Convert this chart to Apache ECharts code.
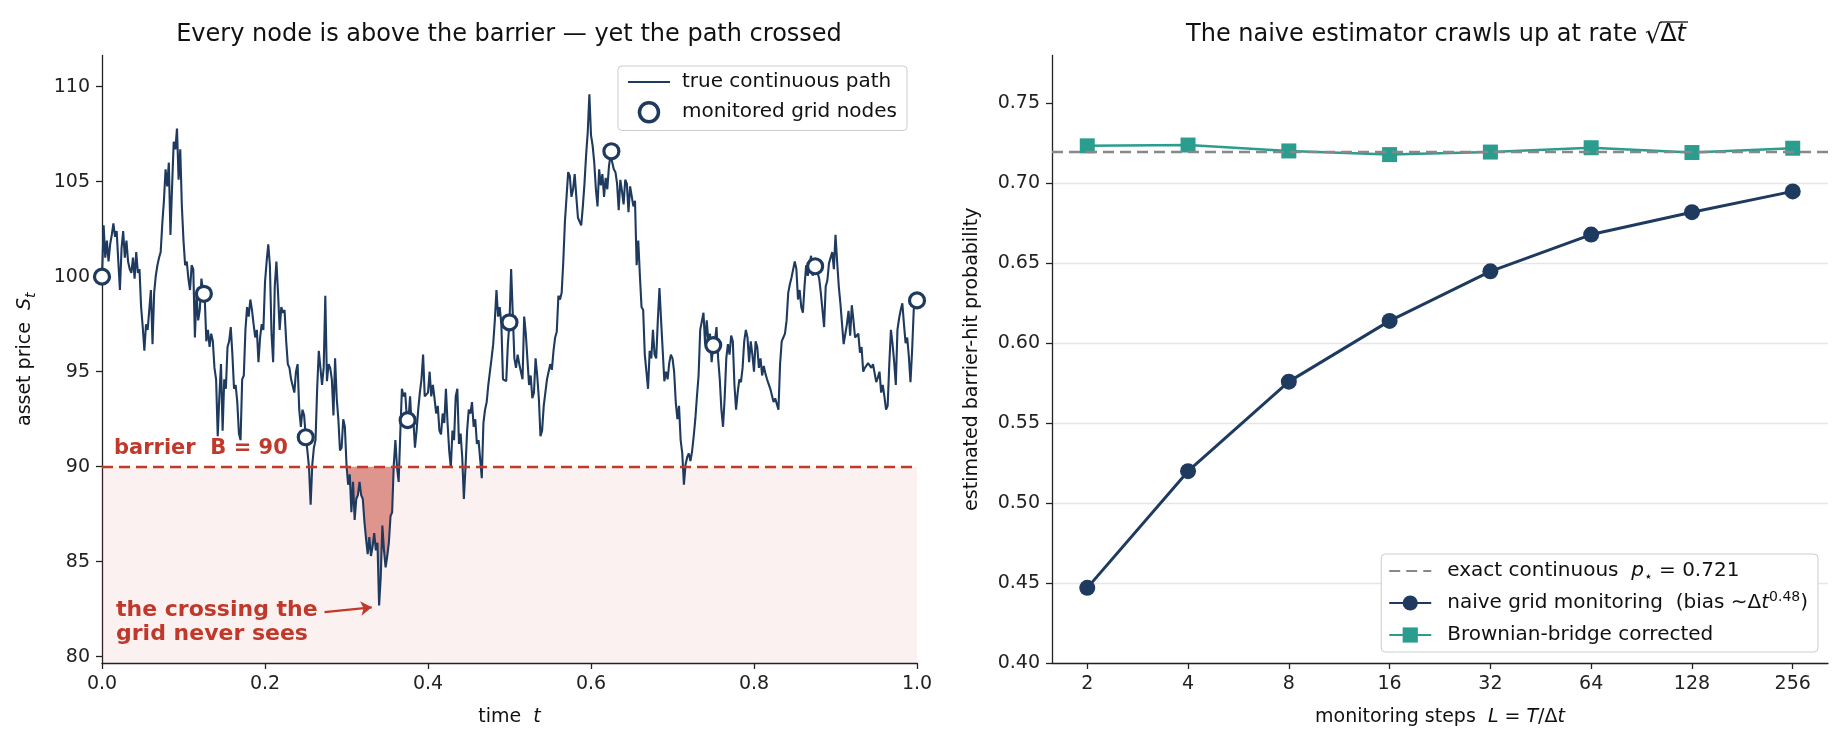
<!DOCTYPE html>
<html>
<head>
<meta charset="utf-8">
<script src="https://cdn.jsdelivr.net/npm/echarts@6/dist/echarts.min.js"></script>
<style>
html, body { margin: 0; padding: 0; background: #fff; }
#chart { width: 1843px; height: 746px; }
</style>
</head>
<body>
<div id="chart"></div>
<script>
// ---- left panel: one asset path on a fine grid (dt = 1/500) ----
const pathDt = 0.002;
const pathS = [
  100.0, 102.7, 101.0, 101.9, 100.8, 101.7, 102.2, 102.8, 102.1, 102.4,
  100.8, 99.3, 101.5, 102.4, 101.0, 101.9, 100.8, 100.4, 100.2, 101.0,
  99.9, 101.3, 100.2, 100.4, 98.4, 97.35, 96.1, 97.5, 97.2, 98.25,
  99.3, 96.45, 99.15, 100.05, 100.6, 101.0, 101.3, 102.8, 104.0, 105.65,
  104.75, 106.0, 102.2, 104.75, 107.1, 106.7, 107.8, 105.1, 106.7, 103.7,
  101.9, 100.6, 100.8, 99.9, 99.3, 100.6, 100.4, 96.8, 99.15, 97.7,
  98.25, 99.9, 99.15, 98.97, 96.6, 97.2, 96.3, 97.0, 96.6, 95.2,
  94.6, 91.6, 93.7, 95.4, 91.9, 94.6, 94.1, 96.3, 96.6, 97.35,
  95.9, 94.1, 94.3, 93.4, 91.75, 91.4, 94.6, 94.8, 97.2, 98.4,
  97.9, 98.8, 98.25, 97.5, 96.8, 97.2, 95.5, 96.8, 97.5, 97.2,
  99.7, 100.8, 101.7, 100.6, 97.0, 95.5, 99.5, 100.8, 99.15, 97.2,
  98.4, 98.1, 98.25, 96.6, 95.4, 95.2, 94.6, 94.6, 93.9, 95.0,
  95.4, 93.0, 92.1, 93.0, 92.7, 91.6, 90.85, 89.95, 88.0, 90.1,
  91.0, 91.4, 94.1, 96.1, 95.2, 94.3, 95.2, 99.0, 94.5, 95.4,
  95.2, 94.6, 92.7, 95.7, 93.6, 92.5, 90.85, 91.0, 92.5, 92.1,
  90.1, 89.05, 89.6, 87.6, 89.2, 87.2, 88.3, 88.5, 89.2, 88.5,
  88.3, 87.1, 86.2, 85.4, 86.3, 85.3, 85.8, 86.5, 85.6, 86.0,
  82.7, 84.2, 86.9, 85.6, 84.7, 85.3, 86.0, 87.4, 87.6, 90.1,
  91.4, 89.95, 89.2, 91.75, 94.1, 93.7, 93.9, 92.6, 92.4, 93.7,
  92.1, 92.5, 91.0, 91.9, 93.0, 93.9, 94.6, 95.9, 93.7, 93.6,
  93.9, 95.0, 93.7, 94.3, 93.6, 92.8, 93.2, 91.9, 91.7, 92.8,
  92.3, 94.1, 92.3, 90.85, 89.95, 91.9, 91.4, 93.7, 94.1, 91.2,
  91.75, 90.5, 88.3, 89.95, 91.9, 93.0, 92.8, 93.4, 92.1, 92.5,
  91.2, 91.4, 91.4, 89.4, 92.3, 93.0, 93.4, 94.3, 95.0, 95.7,
  96.45, 97.7, 99.3, 97.9, 98.4, 97.5, 94.6, 94.6, 94.5, 96.45,
  97.6, 100.4, 100.4, 95.7, 95.2, 95.9, 95.4, 95.0, 94.6, 97.9,
  97.0, 96.9, 94.3, 94.8, 93.6, 93.9, 95.7, 94.8, 93.6, 91.6,
  91.9, 93.2, 93.9, 94.6, 95.0, 95.4, 95.1, 96.1, 96.8, 97.1,
  99.0, 98.8, 99.15, 100.8, 102.9, 104.2, 105.5, 105.3, 104.2, 104.6,
  105.4, 104.2, 103.1, 102.9, 102.7, 103.7, 104.9, 106.4, 107.6, 109.6,
  107.45, 106.9, 106.0, 104.6, 103.7, 105.65, 104.8, 105.4, 104.2, 105.2,
  104.6, 105.8, 106.4, 106.5, 105.65, 105.5, 104.9, 103.5, 105.1, 104.5,
  103.8, 105.1, 104.9, 103.4, 104.75, 104.75, 103.7, 104.0, 100.6, 101.9,
  100.05, 98.4, 98.25, 95.9, 95.0, 94.1, 96.1, 95.7, 97.2, 95.9,
  95.7, 97.7, 99.4, 97.7, 96.1, 94.5, 95.0, 94.6, 95.45, 95.9,
  95.7, 95.0, 93.4, 92.5, 93.2, 91.4, 90.7, 89.05, 90.1, 90.5,
  90.7, 90.3, 90.8, 91.6, 92.5, 93.7, 94.8, 97.2, 97.3, 98.1,
  96.45, 97.7, 96.6, 97.0, 95.5, 96.4, 96.6, 97.35, 95.7, 94.6,
  93.0, 92.1, 93.6, 95.7, 96.45, 95.9, 96.9, 96.6, 94.3, 93.0,
  93.9, 94.6, 94.45, 95.2, 96.6, 97.2, 96.8, 95.5, 96.6, 95.9,
  95.0, 96.6, 96.3, 95.2, 95.7, 94.8, 95.3, 94.9, 94.6, 94.7,
  94.1, 94.1, 93.4, 93.6, 93.7, 93.0, 95.4, 96.6, 96.8, 97.0,
  97.7, 99.15, 99.6, 99.95, 99.9, 100.8, 100.4, 98.8, 99.3, 98.4,
  98.1, 99.5, 100.6, 100.05, 100.05, 101.1, 100.05, 100.6, 100.5, 100.2,
  99.9, 99.15, 98.25, 97.35, 99.5, 99.8, 100.7, 100.7, 101.3, 100.4,
  102.2, 100.8, 99.5, 98.6, 98.5, 96.45, 96.35, 97.5, 98.2, 96.9,
  98.5, 97.7, 96.8, 96.9, 97.0, 96.0, 96.3, 95.0, 95.2, 95.1,
  95.45, 95.4, 95.2, 95.4, 95.5, 94.45, 94.7, 95.0, 93.9, 94.3,
  93.7, 93.0, 93.2, 95.4, 97.2, 96.45, 95.5, 94.3, 97.2, 97.8,
  98.25, 98.6, 97.5, 96.5, 96.8, 95.8, 94.45, 96.1, 98.25, 98.75,
  98.75
];
const nodeT = [0, 0.125, 0.25, 0.375, 0.5, 0.625, 0.75, 0.875, 1.0];
const nodeS = [100.0, 99.1, 91.55, 92.45, 97.6, 106.6, 96.4, 100.55, 98.75];
const barrier = 90;
const crossWindow = [0.302, 0.358];
const arrowFrom = [0.273, 82.35];
const arrowTo = [0.331, 82.6];
const leftYTicks = [80, 85, 90, 95, 100, 105, 110];

// ---- right panel: barrier-hit probability vs monitoring steps ----
const steps = [2, 4, 8, 16, 32, 64, 128, 256];
const naiveProb = [0.447, 0.520, 0.576, 0.614, 0.645, 0.668, 0.682, 0.695];
const bridgeProb = [0.7235, 0.7240, 0.7203, 0.7180, 0.7196, 0.7223, 0.7193, 0.7220];
const pExact = 0.721;
const biasExp = 0.48;
const rightYTicks = [0.40, 0.45, 0.50, 0.55, 0.60, 0.65, 0.70, 0.75];

const NAVY = '#1f3a5f';
const RED = '#c0392b';
const TEAL = '#2a9d8f';
const FONT = 'DejaVu Sans';

const pathData = pathS.map((s, i) => [i * pathDt, s]);
const crossPts = pathData.filter(p => p[0] >= crossWindow[0] - 1e-9 && p[0] <= crossWindow[1] + 1e-9);
const crossClip = crossPts.map(p => [p[0], Math.min(p[1], barrier)]);
const nodeData = nodeT.map((t, i) => [t, nodeS[i]]);
const logSteps = steps.map(v => Math.log2(v));

// right title: measure pieces so the radical bar can sit over "Δt"
const TITLE_FONT = '24px "DejaVu Sans"';
const TITLE_IT = 'italic 24px "DejaVu Sans"';
const rightTitlePre = 'The naive estimator crawls up at rate ';
const mctx = document.createElement('canvas').getContext('2d');
mctx.font = TITLE_FONT;
const wPre = mctx.measureText(rightTitlePre).width;
const wRad = mctx.measureText('\u221A').width;
const wDelta = mctx.measureText('\u0394').width;
mctx.font = TITLE_IT;
const wT = mctx.measureText('t').width;
const rtCenter = 1436, rtY = 35;
const rtX0 = rtCenter - (wPre + wRad + wDelta + wT) / 2;

const chart = echarts.init(document.getElementById('chart'));

const axisLineStyle = {lineStyle: {color: '#222', width: 1.3}};
const axisTickStyle = {length: 6, lineStyle: {color: '#222', width: 1.3}};
const labelBase = {color: '#222', fontSize: 19, fontFamily: FONT};
const nameBase = {color: '#111', fontSize: 19, fontFamily: FONT,
  rich: {i: {fontStyle: 'italic', fontSize: 19, fontFamily: FONT, color: '#111'},
         s: {fontStyle: 'italic', fontSize: 14, fontFamily: FONT, color: '#111', padding: [12, 0, 0, 0]}}};

const legendRich = {
  i: {fontStyle: 'italic', fontSize: 20, fontFamily: FONT, lineHeight: 26, color: '#111'},
  sub: {fontSize: 14, fontFamily: FONT, lineHeight: 14, verticalAlign: 'bottom', color: '#111'},
  sup: {fontSize: 14, fontFamily: FONT, lineHeight: 14, verticalAlign: 'top', color: '#111'},
  n: {fontSize: 20, fontFamily: FONT, lineHeight: 26, color: '#111'}
};
const legendNames = {
  exact: '{n|exact continuous  }{i|p}{sub|\u22C6}{n| = ' + pExact.toFixed(3) + '}',
  naive: '{n|naive grid monitoring  (bias \u223C\u0394}{i|t}{sup|' + biasExp.toFixed(2) + '}{n|)}',
  bridge: '{n|Brownian-bridge corrected}'
};
const legendBox = {
  orient: 'vertical', itemWidth: 42, itemHeight: 19,
  backgroundColor: '#fff', borderColor: '#cccccc', borderWidth: 1, borderRadius: 4
};

const option = {
  animation: false,
  backgroundColor: '#fff',
  grid: [
    {left: 102, top: 55.5, width: 815, height: 607.5, outerBoundsMode: 'none'},
    {left: 1052, top: 55.5, width: 776, height: 607.5, outerBoundsMode: 'none'}
  ],
  xAxis: [
    {
      type: 'value', gridIndex: 0, min: 0, max: 1, interval: 0.2,
      axisLine: axisLineStyle, axisTick: axisTickStyle,
      axisLabel: Object.assign({margin: 12, formatter: v => v.toFixed(1)}, labelBase),
      splitLine: {show: false},
      name: 'time  {i|t}', nameLocation: 'middle', nameGap: 45, nameTextStyle: nameBase
    },
    {
      type: 'value', gridIndex: 1, min: 0.65, max: 8.35,
      axisLine: axisLineStyle,
      axisTick: Object.assign({customValues: logSteps}, axisTickStyle),
      axisLabel: Object.assign({margin: 12, customValues: logSteps,
        formatter: v => String(Math.round(Math.pow(2, v)))}, labelBase),
      splitLine: {show: false},
      name: 'monitoring steps  {i|L} = {i|T}/\u0394{i|t}', nameLocation: 'middle', nameGap: 45,
      nameTextStyle: nameBase
    }
  ],
  yAxis: [
    {
      type: 'value', gridIndex: 0, min: 79.67, max: 111.64,
      axisLine: Object.assign({show: true}, axisLineStyle),
      axisTick: Object.assign({show: true, customValues: leftYTicks}, axisTickStyle),
      axisLabel: Object.assign({margin: 12, customValues: leftYTicks}, labelBase),
      splitLine: {show: false},
      name: 'asset price  {i|S}{s|t}', nameLocation: 'middle', nameGap: 64, nameTextStyle: nameBase
    },
    {
      type: 'value', gridIndex: 1, min: 0.40, max: 0.78,
      axisLine: Object.assign({show: true}, axisLineStyle),
      axisTick: Object.assign({show: true, customValues: rightYTicks}, axisTickStyle),
      axisLabel: Object.assign({margin: 12, customValues: rightYTicks, formatter: v => v.toFixed(2)}, labelBase),
      splitLine: {show: true, showMaxLine: false, lineStyle: {color: '#e6e6e6', width: 1.3}},
      name: 'estimated barrier-hit probability', nameLocation: 'middle', nameGap: 70, nameTextStyle: nameBase
    }
  ],
  legend: [
    Object.assign({
      data: [
        {name: 'true continuous path', itemStyle: {opacity: 0}},
        {name: 'monitored grid nodes', itemStyle: {color: '#fff', borderColor: NAVY, borderWidth: 3.5}}
      ],
      right: 936, top: 66, padding: [6, 10, 7, 9], itemGap: 9,
      textStyle: {fontSize: 20, fontFamily: FONT, color: '#111', padding: [0, 0, 0, 7]}
    }, legendBox),
    Object.assign({
      data: [
        {name: 'exact', itemStyle: {opacity: 0}},
        {name: 'naive'},
        {name: 'bridge'}
      ],
      right: 25, bottom: 94, padding: [4, 10, 4, 7], itemGap: 6,
      formatter: name => legendNames[name],
      textStyle: {fontSize: 20, fontFamily: FONT, color: '#111', lineHeight: 26,
        padding: [0, 0, 0, 11], rich: legendRich}
    }, legendBox)
  ],
  graphic: [
    {type: 'text', x: 509, y: 35, style: {
      text: 'Every node is above the barrier \u2014 yet the path crossed',
      font: TITLE_FONT, fill: '#111', align: 'center', verticalAlign: 'middle'}},
    {type: 'text', x: rtX0, y: rtY, style: {
      text: rightTitlePre, font: TITLE_FONT, fill: '#111', align: 'left', verticalAlign: 'middle'}},
    {type: 'text', x: rtX0 + wPre, y: rtY + 1, style: {
      text: '\u221A', font: '26px "DejaVu Sans"', fill: '#111', align: 'left', verticalAlign: 'middle'}},
    {type: 'text', x: rtX0 + wPre + wRad, y: rtY, style: {
      text: '\u0394', font: TITLE_FONT, fill: '#111', align: 'left', verticalAlign: 'middle'}},
    {type: 'text', x: rtX0 + wPre + wRad + wDelta, y: rtY, style: {
      text: 't', font: TITLE_IT, fill: '#111', align: 'left', verticalAlign: 'middle'}},
    {type: 'line', shape: {x1: rtX0 + wPre + wRad, y1: rtY - 13, x2: rtX0 + wPre + wRad + wDelta + wT + 2, y2: rtY - 13},
      style: {stroke: '#111', lineWidth: 1.3}},
    {type: 'text', left: 116, top: 598, style: {
      text: 'the crossing the\ngrid never sees',
      font: 'bold 22px "DejaVu Sans"', fill: RED, lineHeight: 24}}
  ],
  series: [
    {
      name: 'belowBarrier', type: 'line', xAxisIndex: 0, yAxisIndex: 0, data: [], z: 1, silent: true,
      markArea: {silent: true, itemStyle: {color: 'rgba(192,57,43,0.07)'},
        data: [[{yAxis: 79.67}, {yAxis: barrier}]]}
    },
    {
      name: 'crossFill', type: 'custom', xAxisIndex: 0, yAxisIndex: 0, z: 2, silent: true,
      data: [[crossWindow[0], barrier]],
      renderItem: (params, api) => {
        const pts = crossClip.map(p => api.coord(p));
        pts.unshift(api.coord([crossClip[0][0], barrier]));
        pts.push(api.coord([crossClip[crossClip.length - 1][0], barrier]));
        return {type: 'polygon', shape: {points: pts}, style: {fill: 'rgba(192,57,43,0.5)'}};
      }
    },
    {
      name: 'barrierLine', type: 'line', xAxisIndex: 0, yAxisIndex: 0, data: [], z: 2,
      markLine: {
        silent: true, symbol: ['none', 'none'],
        lineStyle: {color: RED, width: 2.4, type: [11, 6]},
        label: {show: true, position: 'insideStartTop', formatter: 'barrier  B = ' + barrier,
          color: RED, fontWeight: 'bold', fontSize: 21, fontFamily: FONT, distance: [12, 8]},
        data: [{yAxis: barrier}]
      }
    },
    {
      name: 'true continuous path', type: 'line', xAxisIndex: 0, yAxisIndex: 0,
      data: pathData, symbol: 'none', z: 3,
      lineStyle: {color: NAVY, width: 2.1}, itemStyle: {color: NAVY}
    },
    {
      name: 'monitored grid nodes', type: 'scatter', xAxisIndex: 0, yAxisIndex: 0,
      data: nodeData, symbol: 'circle', symbolSize: 15, z: 4,
      itemStyle: {color: '#fff', borderColor: NAVY, borderWidth: 3.2, opacity: 1}
    },
    {
      name: 'arrow', type: 'line', xAxisIndex: 0, yAxisIndex: 0, data: [], z: 4,
      markLine: {
        silent: true, symbol: ['none', 'arrow'], symbolSize: 11,
        lineStyle: {color: RED, width: 2.2, type: 'solid'},
        label: {show: false},
        data: [[{coord: arrowFrom}, {coord: arrowTo}]]
      }
    },
    {
      name: 'exact', type: 'line', xAxisIndex: 1, yAxisIndex: 1, data: [], symbol: 'none', z: 2,
      lineStyle: {color: '#888', width: 2.4, type: [11, 6]}, itemStyle: {color: '#888'},
      markLine: {
        silent: true, symbol: ['none', 'none'],
        lineStyle: {color: '#888', width: 2.4, type: [11, 6]},
        label: {show: false},
        data: [{yAxis: pExact}]
      }
    },
    {
      name: 'naive', type: 'line', xAxisIndex: 1, yAxisIndex: 1,
      data: logSteps.map((x, i) => [x, naiveProb[i]]),
      symbol: 'circle', symbolSize: 16, z: 3,
      lineStyle: {color: NAVY, width: 3}, itemStyle: {color: NAVY}
    },
    {
      name: 'bridge', type: 'line', xAxisIndex: 1, yAxisIndex: 1,
      data: logSteps.map((x, i) => [x, bridgeProb[i]]),
      symbol: 'rect', symbolSize: 15, z: 3,
      lineStyle: {color: TEAL, width: 2.5}, itemStyle: {color: TEAL}
    }
  ]
};

chart.setOption(option);
</script>
</body>
</html>
